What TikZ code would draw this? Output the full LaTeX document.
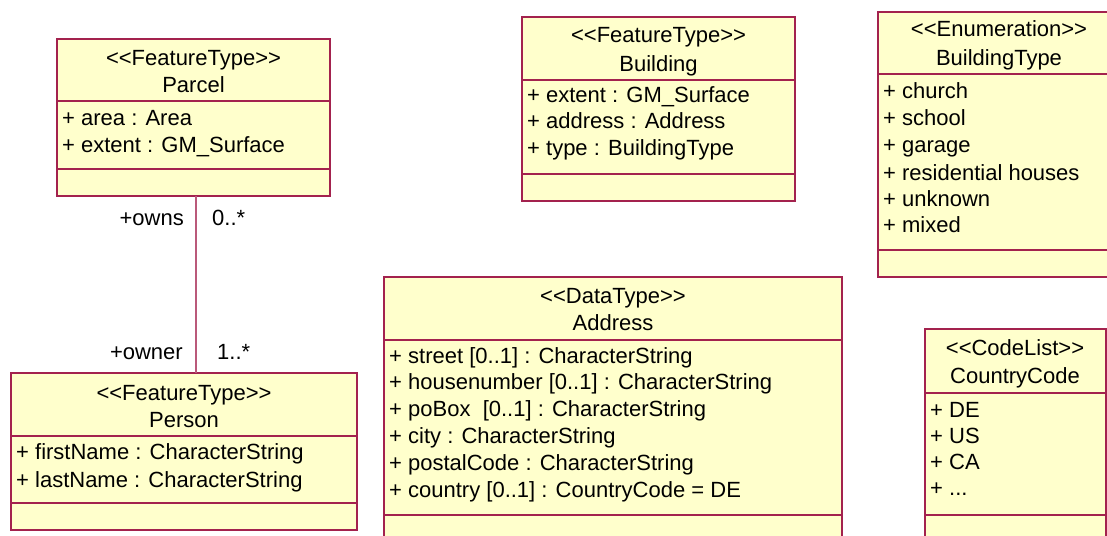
\documentclass[tikz,border=0pt]{standalone}
\usepackage{fontspec}
\setmainfont{Liberation Sans}
\definecolor{umlfill}{HTML}{FFFFCC}
\definecolor{umlline}{HTML}{A3224E}
\newcommand{\umlbox}[7]{%
  \node[classbox, minimum width={#4-#2}, minimum height={#5-#3}] (#1) at ({(#2+#4)/2},{(#3+#5)/2}) {};
  \draw[sepline] (#2,#6) -- (#4,#6);
  \draw[sepline] (#2,#7) -- (#4,#7);
}
\begin{document}
\begin{tikzpicture}[x=1pt,y=-1pt,
  classbox/.style={draw=umlline, fill=umlfill, line width=1.3pt, inner sep=0pt, outer sep=0pt},
  sepline/.style={draw=umlline, line width=1.1pt},
  txt/.style={inner sep=0pt, anchor=base west, font=\fontsize{22}{25}\selectfont},
  ttl/.style={inner sep=0pt, anchor=base, font=\fontsize{22}{25}\selectfont},
  lblr/.style={inner sep=0pt, anchor=base east, font=\fontsize{22}{25}\selectfont},
  assoc/.style={draw=umlline!75, line width=1.3pt}]
\useasboundingbox (0,0) rectangle (1107,535);

% Parcel
\umlbox{parcel}{57}{39}{330}{196}{101}{169}
\node[ttl] (parcel-s) at (193.5,66) {<{}<FeatureType>{}>};
\node[ttl] (parcel-n) at (193.5,92) {Parcel};
\node[txt] (parcel-a1) at (62,125) {+ area : Area};
\node[txt] (parcel-a2) at (62,152) {+ extent : GM\_Surface};

% Person
\umlbox{person}{11}{373}{357}{530}{436}{503}
\node[ttl] (person-s) at (184,400) {<{}<FeatureType>{}>};
\node[ttl] (person-n) at (184,427) {Person};
\node[txt] (person-a1) at (16,459) {+ firstName : CharacterString};
\node[txt] (person-a2) at (16,487) {+ lastName : CharacterString};

% Address
\umlbox{address}{384}{277}{842}{548}{340}{515}
\node[ttl] (address-s) at (613,303) {<{}<DataType>{}>};
\node[ttl] (address-n) at (613,330) {Address};
\node[txt] (address-a1) at (389,363) {+ street [0..1] : CharacterString};
\node[txt] (address-a2) at (389,389) {+ housenumber [0..1] : CharacterString};
\node[txt] (address-a3) at (389,416) {+ poBox\ \ [0..1] : CharacterString};
\node[txt] (address-a4) at (389,443) {+ city : CharacterString};
\node[txt] (address-a5) at (389,470) {+ postalCode : CharacterString};
\node[txt] (address-a6) at (389,497) {+ country [0..1] : CountryCode = DE};

% Building
\umlbox{building}{522}{17}{795}{201}{80}{174}
\node[ttl] (building-s) at (658.5,43) {<{}<FeatureType>{}>};
\node[ttl] (building-n) at (658.5,71) {Building};
\node[txt] (building-a1) at (527,102) {+ extent : GM\_Surface};
\node[txt] (building-a2) at (527,128) {+ address : Address};
\node[txt] (building-a3) at (527,155) {+ type : BuildingType};

% BuildingType
\umlbox{btype}{878}{12}{1120}{277}{74}{250}
\node[ttl] (btype-s) at (999,37) {<{}<Enumeration>{}>};
\node[ttl] (btype-n) at (999,65) {BuildingType};
\node[txt] (btype-a1) at (883,98) {+ church};
\node[txt] (btype-a2) at (883,125) {+ school};
\node[txt] (btype-a3) at (883,152) {+ garage};
\node[txt] (btype-a4) at (883,180) {+ residential houses};
\node[txt] (btype-a5) at (883,206) {+ unknown};
\node[txt] (btype-a6) at (883,232) {+ mixed};

% CountryCode
\umlbox{ccode}{925}{329}{1106}{548}{393}{515}
\node[ttl] (ccode-s) at (1015,355) {<{}<CodeList>{}>};
\node[ttl] (ccode-n) at (1015,383) {CountryCode};
\node[txt] (ccode-a1) at (930,417) {+ DE};
\node[txt] (ccode-a2) at (930,443) {+ US};
\node[txt] (ccode-a3) at (930,469) {+ CA};
\node[txt] (ccode-a4) at (930,495) {+ ...};

% Association
\coordinate (assocx) at (196,0);
\draw[assoc] (parcel.south -| assocx) -- (person.north -| assocx);
\node[lblr] (owns) at (184,225) {+owns};
\node[txt] (owns-m) at (212,225) {0..*};
\node[lblr] (owner) at (183,359) {+owner};
\node[txt] (owner-m) at (217,359) {1..*};
\end{tikzpicture}
\end{document}
